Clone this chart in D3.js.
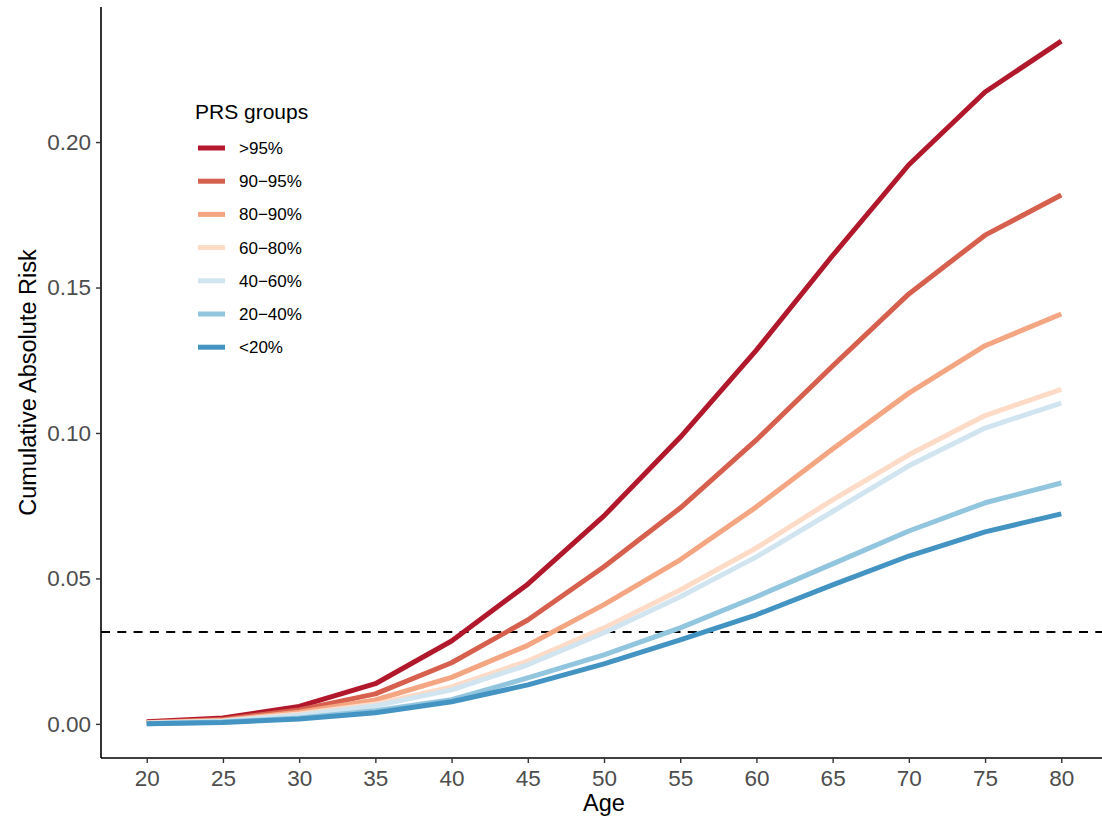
<!DOCTYPE html>
<html>
<head>
<meta charset="utf-8">
<script src="https://cdn.jsdelivr.net/npm/d3@7"></script>
<style>
  html, body { margin: 0; padding: 0; background: #fff; }
  svg { display: block; font-family: "Liberation Sans", Arial, sans-serif; }
</style>
</head>
<body>
<svg id="chart" width="1102" height="816"></svg>
<script>
// Ages at which cumulative absolute risk is reported
const ages = [20, 25, 30, 35, 40, 45, 50, 55, 60, 65, 70, 75, 80];

// PRS groups, highest risk first
const groups = [">95%", "90\u221295%", "80\u221290%", "60\u221280%", "40\u221260%", "20\u221240%", "<20%"];
const groupColors = ["#b2182b", "#d6604d", "#f4a582", "#fddbc7", "#d1e5f0", "#92c5de", "#4393c3"];

// Cumulative absolute risk per group at each age
const riskTop5 =    [0.0007, 0.0020, 0.0060, 0.0138, 0.0285, 0.0480, 0.0715, 0.0985, 0.1285, 0.1610, 0.1922, 0.2172, 0.2347];
const risk90to95 =  [0.0005, 0.0015, 0.0048, 0.0103, 0.0210, 0.0357, 0.0540, 0.0742, 0.0976, 0.1230, 0.1478, 0.1680, 0.1818];
const risk80to90 =  [0.0004, 0.0012, 0.0040, 0.0082, 0.0160, 0.0270, 0.0410, 0.0564, 0.0746, 0.0945, 0.1137, 0.1300, 0.1409];
const risk60to80 =  [0.0003, 0.0010, 0.0034, 0.0068, 0.0127, 0.0216, 0.0330, 0.0460, 0.0605, 0.0770, 0.0925, 0.1060, 0.1150];
const risk40to60 =  [0.0002, 0.0009, 0.0030, 0.0062, 0.0117, 0.0203, 0.0313, 0.0437, 0.0574, 0.0730, 0.0887, 0.1017, 0.1103];
const risk20to40 =  [0.0000, 0.0006, 0.0020, 0.0045, 0.0083, 0.0158, 0.0237, 0.0330, 0.0437, 0.0550, 0.0663, 0.0760, 0.0828];
const riskBottom20 = [0.0000, 0.0005, 0.0017, 0.0038, 0.0076, 0.0134, 0.0206, 0.0289, 0.0375, 0.0478, 0.0577, 0.0660, 0.0722];
const groupRisks = [riskTop5, risk90to95, risk80to90, risk60to80, risk40to60, risk20to40, riskBottom20];

// Population reference risk (dashed line)
const referenceRisk = 0.0316;

const yTicks = [0.00, 0.05, 0.10, 0.15, 0.20];
const xTicks = ages;

const svg = d3.select("#chart");
const plot = { left: 101, right: 1107, top: 7, bottom: 758 };

const x = d3.scaleLinear().domain([17, 83]).range([plot.left, plot.right]);
const yMax = 0.2347;
const yPad = yMax * 0.05;
const y = d3.scaleLinear().domain([-yPad, yMax + yPad]).range([plot.bottom, plot.top]);

// Reference line
svg.append("line")
  .attr("x1", plot.left).attr("x2", plot.right)
  .attr("y1", y(referenceRisk)).attr("y2", y(referenceRisk))
  .attr("stroke", "#000").attr("stroke-width", 2)
  .attr("stroke-dasharray", "9,7.3");

// Risk curves
const line = d3.line().x((d, i) => x(ages[i])).y(d => y(d));
groups.forEach((g, k) => {
  svg.append("path")
    .datum(groupRisks[k])
    .attr("d", line)
    .attr("fill", "none")
    .attr("stroke", groupColors[k])
    .attr("stroke-width", 5)
    .attr("stroke-linejoin", "round");
});

// Axes
const xAxis = d3.axisBottom(x).tickValues(xTicks).tickSize(5).tickPadding(7).tickFormat(d3.format("d"));
const yAxis = d3.axisLeft(y).tickValues(yTicks).tickSize(5).tickPadding(5).tickFormat(d3.format(".2f"));

const gx = svg.append("g").attr("transform", `translate(0,${plot.bottom})`).call(xAxis);
const gy = svg.append("g").attr("transform", `translate(${plot.left},0)`).call(yAxis);

[gx, gy].forEach(g => {
  g.select(".domain").attr("stroke", "#000").attr("stroke-width", 1.6);
  g.selectAll(".tick line").attr("stroke", "#333").attr("stroke-width", 1.4);
  g.selectAll(".tick text").attr("fill", "#4d4d4d").style("font-size", "22.5px")
   .style("font-family", "Liberation Sans, Arial, sans-serif");
});
gx.select(".domain").attr("d", `M${plot.left},0H${plot.right}`);
gy.select(".domain").attr("d", `M0,${plot.top}V${plot.bottom}`);

// Axis titles
svg.append("text")
  .attr("x", x(50)).attr("y", 811)
  .attr("text-anchor", "middle")
  .style("font-size", "23.5px").attr("fill", "#000")
  .text("Age");

svg.append("text")
  .attr("transform", `translate(36,${(plot.top + plot.bottom) / 2}) rotate(-90)`)
  .attr("text-anchor", "middle")
  .style("font-size", "23.5px").attr("fill", "#000")
  .text("Cumulative Absolute Risk");

// Legend
const legend = svg.append("g").attr("transform", "translate(195,0)");
legend.append("text")
  .attr("x", 0).attr("y", 119)
  .style("font-size", "21px").attr("fill", "#000")
  .text("PRS groups");

groups.forEach((g, k) => {
  const ly = 148 + k * 33.2;
  legend.append("line")
    .attr("x1", 3).attr("x2", 30)
    .attr("y1", ly).attr("y2", ly)
    .attr("stroke", groupColors[k]).attr("stroke-width", 5);
  legend.append("text")
    .attr("x", 44).attr("y", ly + 6)
    .style("font-size", "17px").attr("fill", "#000")
    .text(g);
});
</script>
</body>
</html>
